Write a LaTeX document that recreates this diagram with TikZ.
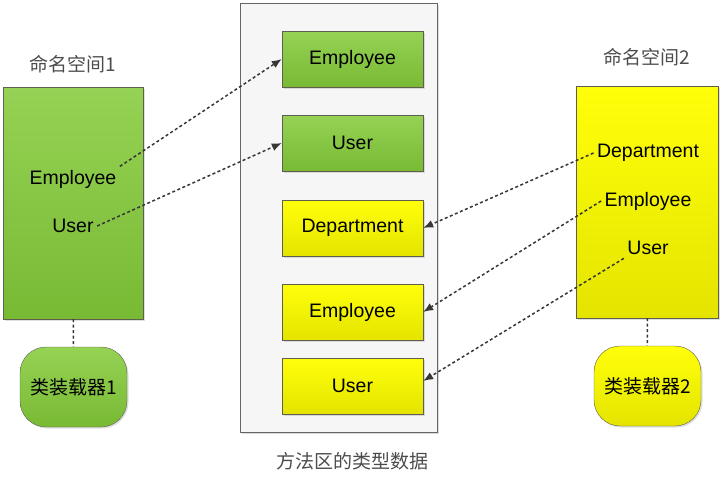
\documentclass[tikz,border=0pt]{standalone}
\usepackage{fontspec}
\setmainfont{Liberation Sans}
\newfontfamily\cjk{Noto Sans CJK SC}
\usetikzlibrary{arrows.meta,shadows}

\definecolor{greentop}{RGB}{150,210,85}
\definecolor{greenbot}{RGB}{120,186,52}
\definecolor{yellowtop}{RGB}{255,255,10}
\definecolor{yellowbot}{RGB}{228,228,0}
\definecolor{edgegray}{RGB}{95,95,80}
\definecolor{linkgray}{RGB}{55,55,55}

\begin{document}
\begin{tikzpicture}[x=1pt, y=-1pt,
    every node/.style={font=\fontsize{19.5}{23}\selectfont},
    greenfill/.style={top color=greentop, bottom color=greenbot},
    yellowfill/.style={top color=yellowtop, bottom color=yellowbot},
    nsbox/.style={draw=edgegray, minimum width=140pt, minimum height=232pt,
        drop shadow={opacity=0.25, shadow xshift=1.5pt, shadow yshift=-1.5pt}},
    typebox/.style={draw=edgegray, minimum width=141pt, minimum height=56pt,
        drop shadow={opacity=0.25, shadow xshift=1.5pt, shadow yshift=-1.5pt}},
    loader/.style={draw=edgegray, rounded corners=26pt, minimum width=107pt,
        minimum height=80pt,
        drop shadow={opacity=0.25, shadow xshift=1.5pt, shadow yshift=-1.5pt}},
    label/.style={text=black!70, font=\cjk\fontsize{19}{23}\selectfont},
    link/.style={draw=linkgray, line width=1.5pt, dash pattern=on 3pt off 2.5pt,
        -{Latex[length=10pt,width=8pt]}}
]
    \useasboundingbox (0,0) rectangle (725,479);

    % method area
    \node[draw=gray!80!black, fill=gray!7, minimum width=197pt, minimum height=429pt,
        drop shadow={opacity=0.3, shadow xshift=2pt, shadow yshift=-2pt}]
        (area) at (338.5,217.5) {};
    \node[label] (arealabel) at (352,461) {方法区的类型数据};

    \foreach \name/\y/\txt/\col in {memp/59/Employee/greenfill,
                                    muser/143/User/greenfill,
                                    mdep/228/Department/yellowfill,
                                    memptwo/312/Employee/yellowfill,
                                    musertwo/386/User/yellowfill} {
        \node[typebox, \col] (\name) at (352.5,\y) {\txt};
    }

    % namespace 1
    \node[label] (nsonelabel) at (73,64) {命名空间1};
    \node[nsbox, greenfill] (nsone) at (73,203) {};
    \node (nsoneemp) at (73,179) {Employee};
    \node (nsoneuser) at (73,226) {User};
    \node[loader, greenfill, font=\cjk\fontsize{19}{23}\selectfont] (ldone) at (73.5,387) {类装载器1};

    % namespace 2
    \node[label] (nstwolabel) at (647,57) {命名空间2};
    \node[nsbox, yellowfill, minimum width=142pt] (nstwo) at (647,202) {};
    \node (nstwodep) at (648,153) {Department};
    \node (nstwoemp) at (648,201) {Employee};
    \node (nstwouser) at (648,248) {User};
    \node[loader, yellowfill, font=\cjk\fontsize{19}{23}\selectfont] (ldtwo) at (647.5,386) {类装载器2};

    % links
    \draw[linkgray, line width=1.5pt, dash pattern=on 3pt off 2.5pt] (nsone) -- (ldone);
    \draw[linkgray, line width=1.5pt, dash pattern=on 3pt off 2.5pt] (nstwo) -- (ldtwo);
    \draw[link] (nsoneemp.north east) -- (memp.west);
    \draw[link] (nsoneuser.east) -- (muser.west);
    \draw[link] (nstwodep.west) -- (mdep.east);
    \draw[link] (nstwoemp.west) -- (memptwo.east);
    \draw[link] (nstwouser.south west) -- ([yshift=5pt]musertwo.east);
\end{tikzpicture}
\end{document}
